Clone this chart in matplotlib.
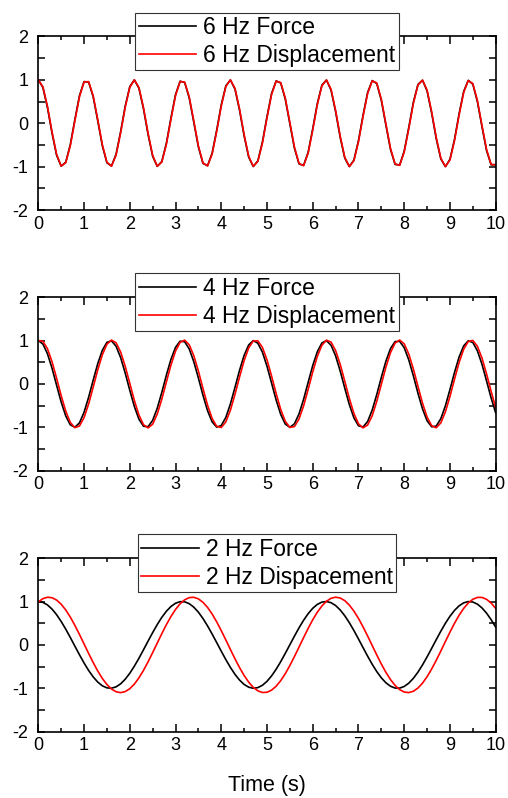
import numpy as np
import matplotlib
matplotlib.use("Agg")
import matplotlib.pyplot as plt
from matplotlib.ticker import MultipleLocator

# values
force_labels = ["6 Hz Force", "4 Hz Force", "2 Hz Force"]
disp_labels = ["6 Hz Displacement", "4 Hz Displacement", "2 Hz Dispacement"]
omega = [6.0, 4.0, 2.0]          # rad/s, period 2*pi/omega
disp_amp = [1.0, 1.013, 1.10]    # displacement amplitude
disp_lag = [0.03, 0.16, 0.45]    # displacement phase lag (rad)
sample_dt = 0.1
t_end = 10.0

x_ticks = list(range(0, 11))
y_ticks = [-2, -1, 0, 1, 2]


def main():
    plt.rcParams["font.family"] = ["Liberation Sans", "DejaVu Sans"]
    plt.rcParams["axes.unicode_minus"] = False

    fig = plt.figure(figsize=(5.08, 7.98), dpi=100)
    left, width, height = 0.0754, 0.9004, 0.2175
    bottoms = [0.7368, 0.4101, 0.0831]

    t = np.arange(0, t_end + sample_dt / 2, sample_dt)

    for i, b in enumerate(bottoms):
        ax = fig.add_axes([left, b, width, height])
        force = np.cos(omega[i] * t)
        disp = disp_amp[i] * np.cos(omega[i] * t - disp_lag[i])
        ax.plot(t, force, color="black", lw=1.2, label=force_labels[i])
        ax.plot(t, disp, color="#ff0000", lw=1.2, label=disp_labels[i])

        ax.set_xlim(0, 10)
        ax.set_ylim(-2, 2)
        ax.set_xticks(x_ticks)
        ax.set_yticks(y_ticks)
        ax.xaxis.set_minor_locator(MultipleLocator(0.5))
        ax.yaxis.set_minor_locator(MultipleLocator(0.5))
        ax.tick_params(which="both", direction="in", top=True, right=True,
                       labelsize=13, width=1.1)
        ax.tick_params(axis="x", which="major", length=6, pad=4)
        ax.tick_params(axis="x", which="minor", length=3)
        ax.tick_params(axis="y", which="both", length=5, pad=7)
        for s in ax.spines.values():
            s.set_linewidth(1.2)

        leg = ax.legend(loc="upper center", bbox_to_anchor=(0.5, 1.138),
                        borderaxespad=0, fancybox=False, framealpha=1,
                        edgecolor="#333333", fontsize=16.5, handlelength=2.5,
                        handletextpad=0.3, labelspacing=0.22, borderpad=0.15)
        leg.get_frame().set_linewidth(0.8)

        if i == 2:
            ax.set_xlabel("Time (s)", fontsize=15.5, labelpad=15)

    fig.savefig("out.png", dpi=100)


if __name__ == "__main__":
    main()
